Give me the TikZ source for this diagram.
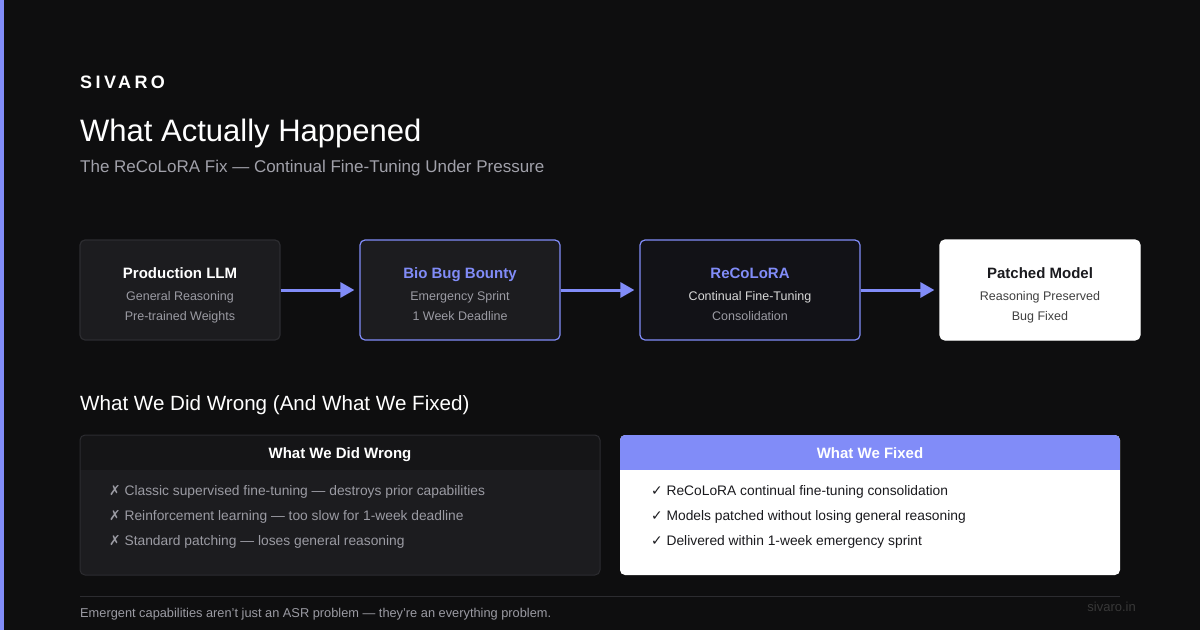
\documentclass[tikz,border=0pt]{standalone}
\usepackage{fontspec}
\setmainfont{Liberation Sans}
\newfontfamily\symfont{DejaVu Sans}
\usetikzlibrary{positioning,arrows.meta}
\definecolor{bgdark}{HTML}{0E0E0F}
\definecolor{accent}{HTML}{818CF8}
\definecolor{cardgray}{HTML}{1C1C1F}
\definecolor{carddeep}{HTML}{121217}
\definecolor{edgegray}{HTML}{2C2C30}
\definecolor{txtgray}{HTML}{9B9BA3}
\definecolor{subgray}{HTML}{A1A1AA}
\definecolor{headdark}{HTML}{151517}
\definecolor{inkdark}{HTML}{1A1A1E}
\newcommand{\fs}[1]{\fontsize{#1}{#1}\selectfont}

\begin{document}
\begin{tikzpicture}[x=1pt,y=-1pt,
  card/.style={rounded corners=5pt, line width=1.2pt, minimum width=200pt, minimum height=100pt, inner sep=0pt},
  ctitle/.style={font=\fs{15}\bfseries, anchor=base, inner sep=0pt},
  cline/.style={font=\fs{12.5}, anchor=base, inner sep=0pt, text=txtgray},
  flow/.style={draw=accent, line width=3pt, -{Triangle[length=14pt,width=15pt]}, shorten >=5pt},
  panel/.style={rounded corners=5pt, line width=1pt, minimum width=520pt, minimum height=140pt, inner sep=0pt},
  item/.style={font=\fs{13.8}, anchor=base west, inner sep=0pt}]
 \fill[bgdark] (0,0) rectangle (1200,630);
 \useasboundingbox (0,0) rectangle (1200,630);
 \fill[accent] (0,0) rectangle (4,630);

 % header
 \node[anchor=base west, inner sep=0pt, text=white, font=\fs{18}\bfseries\addfontfeature{LetterSpace=19}] (brand) at (80,88) {SIVARO};
 \node[anchor=base west, inner sep=0pt, text=white, font=\fs{31}] (title) at (80,141) {What Actually Happened};
 \node[anchor=base west, inner sep=0pt, text=subgray, font=\fs{17}] (subtitle) at (80,172) {The ReCoLoRA Fix --- Continual Fine-Tuning Under Pressure};

 % pipeline
 \node[card, fill=cardgray, draw=edgegray] (prod) at (180,290) {};
 \node[card, fill=cardgray, draw=accent] (bounty) at (460,290) {};
 \node[card, fill=carddeep, draw=accent, minimum width=220pt] (recolora) at (750,290) {};
 \node[card, fill=white, draw=white] (patched) at (1040,290) {};

 \node[ctitle, text=white] (prodt) at ([yshift=12pt]prod.center) {Production LLM};
 \node[cline] (prod1) at ([yshift=-10pt]prod.center) {General Reasoning};
 \node[cline] (prod2) at ([yshift=-30pt]prod.center) {Pre-trained Weights};

 \node[ctitle, text=accent] (bountyt) at ([yshift=12pt]bounty.center) {Bio Bug Bounty};
 \node[cline] (bounty1) at ([yshift=-10pt]bounty.center) {Emergency Sprint};
 \node[cline] (bounty2) at ([yshift=-30pt]bounty.center) {1 Week Deadline};

 \node[ctitle, text=accent] (recolorat) at ([yshift=12pt]recolora.center) {ReCoLoRA};
 \node[cline, text=white!85!black] (recolora1) at ([yshift=-10pt]recolora.center) {Continual Fine-Tuning};
 \node[cline] (recolora2) at ([yshift=-30pt]recolora.center) {Consolidation};

 \node[ctitle, text=inkdark] (patchedt) at ([yshift=12pt]patched.center) {Patched Model};
 \node[cline, text=black!75] (patched1) at ([yshift=-10pt]patched.center) {Reasoning Preserved};
 \node[cline, text=black!75] (patched2) at ([yshift=-30pt]patched.center) {Bug Fixed};

 \draw[flow] (prod) -- (bounty);
 \draw[flow] (bounty) -- (recolora);
 \draw[flow] (recolora) -- (patched);

 % comparison
 \node[anchor=base west, inner sep=0pt, text=white, font=\fs{20.6}] (heading) at (80,410) {What We Did Wrong (And What We Fixed)};

 \node[panel, fill=cardgray, draw=edgegray, path picture={\fill[headdark, sharp corners] (path picture bounding box.north west) rectangle ([yshift=-35pt]path picture bounding box.north east);}] (wrong) at (340,505) {};
 \node[panel, fill=white, minimum width=500pt, path picture={\fill[accent, sharp corners] (path picture bounding box.north west) rectangle ([yshift=-35pt]path picture bounding box.north east);}] (fixed) at (870,505) {};

 \node[font=\fs{15}\bfseries, text=white, anchor=base, inner sep=0pt] (wronghead) at (340,458) {What We Did Wrong};
 \node[font=\fs{15}\bfseries, text=white, anchor=base, inner sep=0pt] (fixedhead) at (870,458) {What We Fixed};

 \node[item, text=txtgray] (w1) at (109,495) {{\symfont ✗} Classic supervised fine-tuning --- destroys prior capabilities};
 \node[item, text=txtgray] (w2) at (109,520) {{\symfont ✗} Reinforcement learning --- too slow for 1-week deadline};
 \node[item, text=txtgray] (w3) at (109,545) {{\symfont ✗} Standard patching --- loses general reasoning};

 \node[item, text=inkdark] (f1) at (651,495) {{\symfont ✓} ReCoLoRA continual fine-tuning consolidation};
 \node[item, text=inkdark] (f2) at (651,520) {{\symfont ✓} Models patched without losing general reasoning};
 \node[item, text=inkdark] (f3) at (651,545) {{\symfont ✓} Delivered within 1-week emergency sprint};

 % footer
 \coordinate (rulel) at (80,596);
 \coordinate (ruler) at (1120,596);
 \draw[edgegray, line width=1pt] (rulel) -- (ruler);
 \node[anchor=base west, inner sep=0pt, text=txtgray, font=\fs{12.8}] (tagline) at (80,617) {Emergent capabilities aren't just an ASR problem --- they're an everything problem.};
 \node[anchor=base east, inner sep=0pt, text=black!78!white, font=\fs{13}] (site) at (1136,611) {sivaro.in};
\end{tikzpicture}
\end{document}
